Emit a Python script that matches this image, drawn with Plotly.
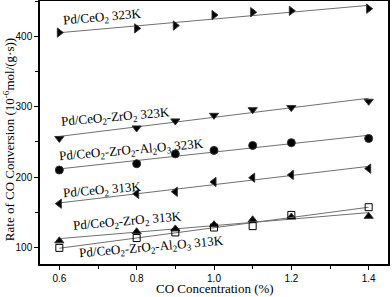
import numpy as np
import plotly.graph_objects as go

x = [0.6, 0.8, 0.9, 1.0, 1.1, 1.2, 1.4]

ceo2_323 = [406, 412, 416, 431, 435, 437, 440]
cz_323 = [255, 270, 280, 288, 296, 299, 308]
cza_323 = [210, 219, 233, 238, 245, 249, 255]
ceo2_313 = [162, 176, 179, 193, 199, 203, 212]
cz_313 = [109, 122, 126, 132, 139, 143, 144]
cza_313 = [99, 113, 121, 128, 130, 146, 157]

series = [
    (ceo2_323, "triangle-right", "Pd/CeO<sub>2</sub> 323K", 0.711, 428),
    (cz_323, "triangle-down", "Pd/CeO<sub>2</sub>-ZrO<sub>2</sub> 323K", 0.745, 285),
    (cza_323, "circle", "Pd/CeO<sub>2</sub>-ZrO<sub>2</sub>-Al<sub>2</sub>O<sub>3</sub> 323K", 0.786, 238),
    (ceo2_313, "triangle-left", "Pd/CeO<sub>2</sub> 313K", 0.71, 181),
    (cz_313, "triangle-up", "Pd/CeO<sub>2</sub>-ZrO<sub>2</sub> 313K", 0.777, 136),
    (cza_313, "square-open", "Pd/CeO<sub>2</sub>-ZrO<sub>2</sub>-Al<sub>2</sub>O<sub>3</sub> 313K", 0.838, 100),
]

fig = go.Figure()
xa = np.array(x)
for ys, sym, name, lx, ly in series:
    k, b = np.polyfit(xa, np.array(ys, dtype=float), 1)
    fx = [xa.min(), xa.max()]
    fig.add_trace(go.Scatter(x=fx, y=[k * v + b for v in fx], mode="lines",
                             line=dict(color="#707070", width=1), showlegend=False,
                             hoverinfo="skip"))
    fig.add_trace(go.Scatter(x=x, y=ys, mode="markers", name=name, showlegend=False,
                             marker=dict(symbol=sym, size=8 if sym != "square-open" else 7,
                                         color="black",
                                         line=dict(color="#333333", width=1))))
    fig.add_annotation(x=lx, y=ly, text=name, showarrow=False, textangle=-5,
                       font=dict(family="Liberation Serif", size=13, color="black"))

fig.add_annotation(xref="paper", yref="paper", x=0.503, y=-0.095,
                   xanchor="center", yanchor="middle",
                   text="CO Concentration (%)", showarrow=False,
                   font=dict(family="Liberation Serif", size=13, color="black"))
fig.add_annotation(xref="paper", yref="paper", x=-0.089, y=0.471, textangle=-90,
                   xanchor="center", yanchor="middle",
                   text="Rate of CO Conversion (10<sup>-6</sup>mol/(g·s))", showarrow=False,
                   font=dict(family="Liberation Serif", size=13, color="black"))

fig.update_xaxes(range=[0.55, 1.45], tickvals=[0.6, 0.8, 1.0, 1.2, 1.4],
                 ticktext=["0.6", "0.8", "1.0", "1.2", "1.4"],
                 ticks="outside", ticklen=4, tickcolor="black",
                 minor=dict(dtick=0.1, tick0=0.6, ticks="outside", ticklen=3, tickcolor="black"),
                 showline=True, linecolor="black", linewidth=1.5, mirror=True,
                 showgrid=False, zeroline=False, automargin=False,
                 tickfont=dict(family="Liberation Sans", size=10, color="black"))
fig.update_yaxes(range=[76, 451], tickvals=[100, 200, 300, 400],
                 ticks="outside", ticklen=4, tickcolor="black",
                 minor=dict(dtick=50, tick0=0, ticks="outside", ticklen=3, tickcolor="black"),
                 showline=True, linecolor="black", linewidth=1.5, mirror=True,
                 showgrid=False, zeroline=False, automargin=False,
                 tickfont=dict(family="Liberation Sans", size=10, color="black"))
fig.update_layout(width=392, height=297,
                  margin=dict(l=40, r=4, t=1, b=33, autoexpand=False),
                  plot_bgcolor="white", paper_bgcolor="white")
fig.write_html("out.html", config={"displayModeBar": False},
               post_script="document.body.style.margin='0';document.body.style.overflow='hidden';")
